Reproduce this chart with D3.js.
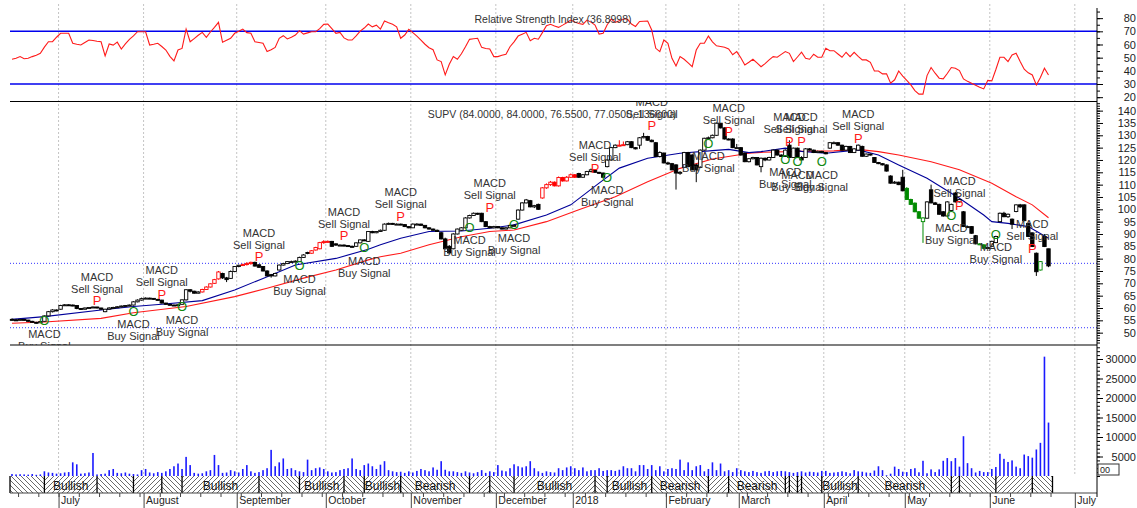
<!DOCTYPE html>
<html>
<head>
<meta charset="utf-8">
<script src="https://cdn.jsdelivr.net/npm/d3@7"></script>
<style>
  body { margin: 0; background: #fff; }
  svg { display: block; font-family: Arial, "Liberation Sans", sans-serif; }
</style>
</head>
<body>
<div id="chart"></div>
<script>
// ---- daily bars, index 0 = mid June 2017, index 256 = last bar (June 2018)
const opens = [
55.4,55.2,55.0,55.4,55.1,54.6,54.2,54.0,54.6,56.8, 58.5,59.2,59.5,61.0,61.3,61.2,61.0,59.8,59.5,60.0,
60.2,60.4,60.0,58.5,59.5,60.0,60.2,60.5,60.8,61.0, 61.2,62.5,63.2,63.8,64.0,63.9,63.5,63.2,62.0,61.5,
61.2,61.0,61.5,63.3,67.4,66.8,66.0,66.5,67.5,68.5, 70.0,71.8,74.0,72.2,72.0,74.8,76.8,77.3,77.6,78.0,
78.5,77.5,76.8,75.0,73.5,73.0,75.4,77.4,78.0,78.8, 78.8,78.8,80.5,82.5,82.2,83.5,84.0,86.5,86.9,87.0,
86.0,85.5,85.5,85.3,85.0,85.0,86.4,87.6,87.0,91.0, 90.5,91.0,91.5,94.0,94.3,94.0,94.0,93.8,93.0,92.5,
94.0,94.0,93.5,92.5,92.0,91.5,90.5,88.0,85.0,84.0, 90.0,91.5,92.5,96.5,97.5,98.4,98.4,95.0,93.0,92.5,
93.0,92.5,92.0,92.5,93.5,96.0,99.7,102.6,103.5,101.0, 102.0,104.6,108.7,110.0,111.0,109.5,112.9,111.5,113.0,114.0,
114.5,113.0,114.0,115.3,116.0,115.0,114.7,117.3,120.0,125.0, 126.0,126.0,126.2,127.4,125.0,126.0,129.0,129.5,128.0,127.0,
121.4,122.8,118.8,118.5,118.0,114.7,117.0,123.0,122.0,118.0, 117.0,124.0,128.8,129.0,130.0,134.9,133.0,128.5,128.5,125.0,
125.0,122.8,119.3,120.5,121.0,117.3,120.7,120.0,121.0,124.0, 122.0,121.4,126.0,121.0,124.8,121.0,121.0,124.5,124.0,123.0,
123.5,123.0,124.8,127.0,127.0,126.0,124.0,125.5,123.0,124.0, 125.5,121.5,122.4,121.0,119.0,118.5,118.0,113.5,110.6,111.0,
113.0,108.5,104.0,102.5,99.0,95.0,96.4,107.9,102.6,102.0, 99.0,97.3,99.5,106.6,103.0,99.0,93.0,93.0,89.3,86.0,
85.6,84.2,85.0,86.5,95.0,98.4,97.0,96.0,99.1,101.8, 101.8,94.3,90.4,82.2,75.4,89.0,84.0];
const highs = [
55.8,55.6,55.6,55.5,55.2,54.8,54.4,54.7,57.0,58.8, 59.5,59.4,61.3,61.6,61.5,61.4,61.1,60.0,60.2,60.4,
60.6,60.5,60.1,59.7,60.3,60.5,60.8,61.0,61.2,61.4, 62.8,63.5,64.2,64.3,64.2,64.0,63.7,63.3,62.1,61.7,
61.4,61.6,63.5,67.6,67.6,67.0,66.8,67.8,68.8,70.0, 71.8,75.0,74.3,72.6,75.2,77.0,77.6,78.0,78.6,78.8,
78.8,77.8,77.0,75.3,73.8,74.3,77.6,78.3,79.0,79.2, 79.3,80.8,81.8,82.8,83.5,84.8,86.8,87.5,87.4,87.2,
86.2,85.8,85.8,85.5,85.3,86.6,87.8,87.9,91.2,91.3, 91.2,91.8,94.3,94.6,94.5,94.3,94.2,94.0,93.2,94.3,
94.4,94.2,93.6,92.7,92.2,91.8,90.8,88.5,85.5,90.3, 92.2,92.8,96.8,97.8,98.7,98.6,98.6,95.2,93.3,93.3,
93.2,92.7,92.8,93.8,94.0,100.0,102.9,104.2,103.8,101.8, 102.3,109.0,110.5,111.5,111.3,113.3,113.2,113.5,114.5,114.3,
114.8,114.3,115.6,116.5,116.2,115.2,114.9,120.3,125.3,126.3, 128.0,127.5,127.7,127.6,125.2,129.3,131.0,129.8,128.3,127.3,
123.5,123.0,119.3,118.8,118.3,115.5,123.3,123.3,122.5,118.5, 124.3,129.0,129.5,130.3,135.2,135.0,133.2,128.8,128.8,126.5,
125.2,123.0,120.8,121.3,121.2,121.0,121.0,121.3,124.3,124.2, 122.3,124.3,128.0,125.0,125.0,121.5,124.8,124.8,124.2,123.8,
123.7,123.2,127.3,127.5,127.2,126.2,125.8,125.7,124.8,126.3, 125.8,122.6,122.6,121.2,119.2,118.7,118.2,113.8,111.5,111.2,
116.0,109.0,104.3,102.8,99.3,96.8,103.3,110.0,103.0,102.3, 99.3,103.3,102.3,107.0,104.3,99.3,93.4,93.2,89.6,86.3,
85.8,84.8,87.3,89.3,98.7,99.0,98.3,96.3,102.0,102.2, 102.0,94.5,90.6,82.5,79.0,90.0,84.0];
const lows = [
55.0,54.8,54.9,54.9,54.4,54.0,53.7,53.9,54.5,56.6, 58.2,58.7,59.3,60.8,60.9,60.7,59.5,59.3,59.4,59.8,
60.0,59.8,59.2,58.3,59.3,59.8,60.0,60.3,60.6,60.8, 61.0,62.3,63.0,63.6,63.6,63.3,63.0,61.8,61.3,61.0,
60.8,60.9,61.3,63.0,66.3,65.8,65.9,66.3,67.3,68.3, 69.8,71.5,71.8,70.5,71.8,74.5,76.5,77.0,77.2,77.5,
76.8,76.2,74.8,72.8,72.3,72.8,75.2,77.2,77.8,78.5, 78.5,78.6,80.3,81.8,82.0,83.3,83.8,86.0,86.5,84.8,
85.2,85.2,85.0,84.8,84.6,84.8,86.2,87.3,86.8,90.3, 90.3,90.8,91.3,93.8,93.8,93.7,93.6,92.8,92.3,92.4,
93.8,93.3,92.3,91.8,91.3,90.8,87.8,83.8,82.0,83.8, 89.8,91.3,92.3,96.3,97.3,97.8,94.8,92.8,92.3,92.3,
92.3,91.8,91.9,92.3,93.0,95.8,99.5,102.4,100.8,100.5, 99.8,104.3,108.3,109.5,109.3,109.2,111.2,111.3,112.8,112.7,
112.7,112.8,113.8,115.0,114.8,114.3,112.7,117.0,119.8,124.8, 125.5,125.8,126.0,124.8,124.3,124.5,128.8,127.8,127.2,121.2,
121.0,118.6,118.0,115.8,108.0,114.0,116.8,117.0,115.8,111.0, 116.8,123.8,128.5,128.8,129.8,132.8,128.3,128.0,124.8,124.5,
121.8,119.1,119.0,120.2,117.8,115.0,119.5,119.8,120.8,121.8, 121.2,121.2,120.8,120.8,120.8,119.8,120.8,123.8,122.8,122.8,
122.8,122.3,124.5,126.8,125.8,123.8,123.8,122.8,122.8,123.8, 121.3,121.2,121.8,118.8,118.3,117.8,115.3,110.4,110.3,109.8,
107.3,103.8,101.8,98.8,96.2,86.4,96.2,102.4,101.8,97.8, 97.0,97.0,99.3,102.8,102.8,92.8,92.6,90.1,85.8,85.5,
84.0,84.0,84.8,86.3,94.8,96.8,96.5,92.0,98.8,100.5, 95.2,88.8,84.7,73.0,75.2,84.7,76.55];
const closes = [
55.2,55.0,55.4,55.1,54.6,54.2,54.0,54.5,56.8,58.5, 59.2,59.0,61.0,61.3,61.2,61.0,59.8,59.5,60.0,60.2,
60.4,60.0,59.5,59.5,60.0,60.2,60.5,60.8,61.0,61.2, 62.5,63.2,63.8,64.0,63.9,63.5,63.2,62.0,61.5,61.2,
61.0,61.3,63.3,67.4,66.8,66.0,66.5,67.5,68.5,69.8, 71.5,74.6,72.2,71.5,74.8,76.8,77.3,77.6,78.0,78.5,
77.0,76.5,75.0,73.0,73.0,74.0,77.4,78.0,78.8,78.8, 79.0,80.5,81.5,82.2,83.2,84.5,86.5,86.9,87.0,85.0,
85.5,85.5,85.3,85.0,84.9,86.4,87.6,87.5,91.0,90.5, 91.0,91.5,94.0,94.3,94.0,94.0,93.8,93.0,92.5,94.0,
94.0,93.5,92.5,92.0,91.5,91.0,88.0,84.0,82.3,90.0, 92.0,92.5,96.5,97.5,98.4,98.0,95.0,93.0,92.5,93.0,
92.5,92.0,92.5,93.5,93.5,99.7,102.6,103.8,101.0,101.5, 100.0,108.7,110.0,111.0,109.5,112.9,111.5,113.0,114.0,113.0,
113.0,114.0,115.3,116.0,115.0,114.7,113.0,120.0,125.0,126.0, 126.0,126.2,127.4,125.0,124.5,129.0,129.5,128.0,127.4,121.4,
123.0,118.8,118.5,116.0,114.7,115.0,123.0,117.3,116.0,116.0, 124.0,128.8,129.0,130.0,134.9,133.0,128.5,128.3,125.0,125.0,
122.0,119.3,120.5,121.0,118.0,120.7,120.0,121.0,124.0,122.0, 121.4,124.0,121.0,124.8,121.0,120.0,124.5,124.0,123.0,123.5,
123.0,122.5,127.0,127.0,126.0,124.0,125.5,123.0,124.5,126.0, 121.5,122.4,122.0,119.0,118.5,118.0,115.5,110.6,111.0,110.0,
107.5,104.0,102.0,99.0,96.4,96.5,103.0,102.6,102.0,98.0, 97.3,103.0,102.0,103.0,104.0,93.0,93.0,90.3,86.0,86.0,
84.2,84.5,87.0,89.0,98.4,97.0,98.0,94.0,101.8,101.0, 95.4,89.0,84.9,74.7,78.8,84.9,77.05];
const volumes = [
500,400,450,400,350,500,300,400,1200,900, 800,600,700,900,1000,3500,3000,600,700,900,
5900,400,500,600,1500,1800,800,700,900,600, 500,400,1500,1800,900,700,1000,800,1200,1800,
2500,3200,1800,4900,2800,800,600,700,1200,1500, 5400,2800,800,900,1500,1200,900,1800,2800,1200,
800,1000,1500,2000,6700,2500,3500,4500,1800,2000, 1500,1200,1000,4200,1500,2000,2200,1800,1200,900,
1000,1500,1800,2000,4500,1800,1500,2800,3200,2500, 1800,2900,3800,1500,1200,1000,1100,800,1200,900,
1300,1800,1500,1200,2200,1600,3800,1600,1200,1200, 1000,800,1200,900,700,1000,1500,800,1200,1000,
2800,1400,1200,2000,3000,2500,2200,2500,3800,2000, 1200,800,1200,1000,900,2000,1500,2200,2500,2000,
1500,2200,1200,1500,1500,2000,1300,1500,1500,1300, 1600,2500,2000,2000,1200,2800,2800,1800,2800,1500,
2500,1200,1800,2000,1800,4200,1500,3500,1500,2500, 2800,1200,1800,3500,1500,3200,1200,1500,1000,2000,
1500,1200,1000,1300,1000,800,1200,1300,1000,1200, 1300,1200,1000,800,1000,1200,900,1100,1000,900,
1300,1300,800,900,1000,1200,1000,700,1500,1200, 1100,900,800,1400,2500,1500,200,600,2400,1800,
1100,1000,1800,2000,950,3900,700,1700,1000,1700, 3900,4600,3800,4600,2400,10200,3300,2000,900,1300,
1000,1000,1800,2300,5700,4400,3600,4000,2400,2000, 5500,5100,4700,6800,8500,30600,13700];
const rsi = [
48.8,49.5,50.8,49.2,49.5,50.8,51.8,53.3,58,62.1, 62.1,65.5,68.5,68.5,68.5,60.9,60.2,59.6,61.5,63.4,
63,62.5,62.1,51.3,60.4,59.5,61.8,56.6,60.5,63.9, 66.5,69.7,69.7,69.7,59.6,60.2,60.9,58.5,55.8,51,
47.5,55.8,57,71.7,62.1,64.5,67,69.2,65.5,69.5, 73,76.8,61.7,63.2,64.7,68.5,70,71.7,69,68.5,
62.1,61.5,60.9,54.6,56,57.8,64.7,66.7,64.2,65.5, 67.2,70.5,67.9,68.8,69.7,69.7,72,75.3,75.5,72,
68.5,69.2,65,63.4,63.4,66.5,70.2,72.5,75.5,73.4, 74.7,71.7,77.8,76.5,75.3,73.4,64.7,67.2,71.5,69,
66.4,63.3,60.2,57.5,56,48.3,47,36.9,45,50.8, 48.8,53,58.3,63.9,64.3,64.7,57.8,57,56.6,50.8,
50.8,51.8,52.6,58.3,62,66.4,67.8,69.2,62.9,64.7, 64,69,74.2,75.3,74,73,74.7,76.5,78.5,77,
76,75.3,78.5,77,74.7,67.9,68.5,75,79.3,76.8, 78,79.3,79.3,75.5,73.7,77.5,77.7,77.8,71,57.1,
54.6,63.4,60.9,49.5,43.7,50.8,48.8,46,43.1,55.8, 60.9,60.9,66.4,62,59,58.5,57.9,56.6,52.2,54.6,
50,44.5,46.5,48.8,46,43.1,45.5,48.3,50.8,50.3, 52.5,54.6,53.3,47,50.5,54.1,49.5,48.8,52.6,50.3,
50.3,57.1,55.3,55.3,52.8,50.3,54.1,50.8,54.1,51, 48.3,48.3,46.5,39.9,39.9,37.7,37.7,30.6,33.2,39.9,
36,32.7,29.3,25,22.3,22.3,36.4,42.5,38.2,34.4, 33.9,38,42.5,42,40.2,33.9,32,30.6,29,27.6,
26.3,32.7,32.4,41,50.3,50.3,47,52.1,53.3,47, 41.2,38.5,36.9,29.3,35,42,36.9];

// candle colour groups
const redDays = [47,48,49,50,51,57,58,59,74,75,76,77,78,131,132,133,134,135,136,137,138,139,150,151];
const greenDays = [221,222,223,224,225,239,240,254];

// moving averages (day index, value)
const fastMaDays = [0,8,22,30,37,47,55,62,70,80,88,91,96,103,111,118,124,132,138,145,150,157,165,173,177,182,185,191,195,201,209,214,219,226,234,240,242,246,251,256];
const fastMa = [55.4,56.5,59.2,60.6,61.5,63,67.3,72,77.4,80.1,83.8,85.6,88.3,91,91.2,92.3,93.7,97.7,101.8,110.6,116.7,120.7,122.7,123.8,124.3,123,123.4,124.8,123.5,122.7,124.1,122,118,112.6,104.5,97.7,95,94.3,93,88.3];
const slowMaDays = [0,8,22,30,43,55,63,72,80,88,91,96,103,111,118,124,132,140,149,157,165,173,182,185,195,203,209,214,219,227,234,242,248,252,256];
const slowMa = [53.8,54.3,55.8,58.1,60.6,64.6,68,72.1,75.4,79.5,80.8,82.2,85.6,88.9,91,91.6,95,99.8,105.1,111.2,116.6,120.4,122.7,123.1,123.5,123.7,124.3,123.4,122,119.3,116,110.6,105.1,101.8,96.6];

// MACD signals: B = buy (O), S = sell (P)
const signalDays = [8,21,30,37,42,61,71,82,87,96,113,118,124,144,147,158,172,177,191,192,194,195,200,209,232,234,243,252];
const signalTypes = "BSBSBSBSBSBSBSBSBSBSBSBSBSBS";
const signalPrices = [54.9,63.0,58.7,65.7,60.6,80.8,77.2,89.3,84.5,97.3,92.7,100.8,93.8,116.5,113.0,133.9,126.8,131.5,120.3,127.7,119.3,127.7,119.3,128.8,97.7,101.8,90.0,84.2];
// label of the trend band segment before the first signal and after each signal
const bandLabels = ["","Bullish","","","","Bullish","","Bullish","","Bullish","Bearish","","","Bullish","","Bullish","Bearish","","Bearish","","","","","Bullish","Bearish","","","",""];

const monthStarts = [12,33,56,78,99,120,139,162,180,201,221,242,263];
const monthLabels = ["July","August","September","October","November","December","2018","February","March","April","May","June","July"];

const refLines = [78.1, 52.0];
const rsiLevels = [70, 30];

const rsiTitle = "Relative Strength Index (36.8998)";
const priceTitle = "SUPV (84.0000, 84.0000, 76.5500, 77.0500, 136600)";

// ---- layout
const W = 1137, H = 508;
const plotL = 10, plotR = 1097;
const bandTop = 476, bandBot = 493;
const narrow = "'Liberation Sans Narrow', 'Arial Narrow', Arial, sans-serif";

const svg = d3.select('#chart').append('svg').attr('width', W).attr('height', H);
const defs = svg.append('defs');

const x = d3.scaleLinear().domain([0, 256]).range([12, 1048.5]);
const yRsi = d3.scaleLinear().domain([17.1, 91.5]).range([101, 3]);
const yPrice = d3.scaleLinear().domain([45, 143.5]).range([345, 102]);
const yVol = d3.scaleLinear().domain([0, 30000]).range([bandTop, 359]);

const gridX = i => x(i - 0.5);

// month grid lines
svg.append('g').selectAll('line').data(monthStarts).join('line')
  .attr('x1', d => gridX(d)).attr('x2', d => gridX(d))
  .attr('y1', 4).attr('y2', bandTop)
  .attr('stroke', '#c4c4c4').attr('stroke-dasharray', '2,2');

// panel separators
svg.append('g').selectAll('line').data([101.5, 345]).join('line')
  .attr('x1', plotL).attr('x2', plotR).attr('y1', d => d).attr('y2', d => d)
  .attr('stroke', '#000').attr('stroke-width', 1.2);

// ---- RSI panel
svg.append('g').selectAll('line').data(rsiLevels).join('line')
  .attr('x1', plotL).attr('x2', plotR).attr('y1', d => yRsi(d)).attr('y2', d => yRsi(d))
  .attr('stroke', '#0000ee').attr('stroke-width', 1.4);

svg.append('path').datum(rsi)
  .attr('fill', 'none').attr('stroke', '#ff1a1a').attr('stroke-width', 1.1)
  .attr('d', d3.line().x((d, i) => x(i)).y(d => yRsi(d)));

svg.append('text').attr('x', 553).attr('y', 23).attr('text-anchor', 'middle')
  .attr('font-size', 10.5).attr('fill', '#333').text(rsiTitle);

// ---- price panel
svg.append('g').selectAll('line').data(refLines).join('line')
  .attr('x1', plotL).attr('x2', plotR).attr('y1', d => yPrice(d)).attr('y2', d => yPrice(d))
  .attr('stroke', '#3333ff').attr('stroke-dasharray', '1,2');

svg.append('text').attr('x', 552).attr('y', 118).attr('text-anchor', 'middle')
  .attr('font-size', 10.5).attr('fill', '#333').text(priceTitle);

const maLine = d3.line().x(d => x(d[0])).y(d => yPrice(d[1]));
svg.append('path').datum(d3.zip(slowMaDays, slowMa))
  .attr('fill', 'none').attr('stroke', '#ff1a1a').attr('stroke-width', 1.1).attr('d', maLine);
svg.append('path').datum(d3.zip(fastMaDays, fastMa))
  .attr('fill', 'none').attr('stroke', '#000099').attr('stroke-width', 1.1).attr('d', maLine);

const bars = closes.map((c, i) => ({
  i, o: opens[i], h: highs[i], l: lows[i], c,
  col: redDays.includes(i) ? '#ff0000' : greenDays.includes(i) ? '#008a00' : '#000'
}));

const candles = svg.append('g').selectAll('g').data(bars).join('g');
candles.append('line')
  .attr('x1', d => x(d.i)).attr('x2', d => x(d.i))
  .attr('y1', d => yPrice(d.h)).attr('y2', d => yPrice(d.l))
  .attr('stroke', d => d.col).attr('stroke-width', 1);
candles.append('rect')
  .attr('x', d => x(d.i) - 1.7).attr('width', 3.4)
  .attr('y', d => yPrice(Math.max(d.o, d.c)))
  .attr('height', d => Math.max(1, Math.abs(yPrice(d.o) - yPrice(d.c))))
  .attr('fill', d => d.c >= d.o ? '#fff' : d.col)
  .attr('stroke', d => d.col).attr('stroke-width', 0.9);

// signals
defs.append('clipPath').attr('id', 'priceClip').append('rect')
  .attr('x', 0).attr('y', 102).attr('width', plotR).attr('height', 243);
const sig = svg.append('g').attr('clip-path', 'url(#priceClip)')
  .selectAll('g').data(signalDays.map((d, k) => ({ i: d, t: signalTypes[k], p: signalPrices[k] })))
  .join('g').attr('transform', d => `translate(${x(d.i)},${yPrice(d.p)})`);

sig.append('text').attr('text-anchor', 'middle').attr('dy', '0.36em')
  .attr('font-family', narrow).attr('font-size', 13)
  .attr('fill', d => d.t === 'S' ? '#ff1a1a' : '#108a10')
  .text(d => d.t === 'S' ? 'P' : 'O');
sig.append('text').attr('text-anchor', 'middle')
  .attr('y', d => d.t === 'S' ? -20 : 17)
  .attr('font-family', narrow).attr('font-size', 11).attr('fill', '#333')
  .text('MACD');
sig.append('text').attr('text-anchor', 'middle')
  .attr('y', d => d.t === 'S' ? -8 : 29)
  .attr('font-family', narrow).attr('font-size', 11).attr('fill', '#333')
  .text(d => d.t === 'S' ? 'Sell Signal' : 'Buy Signal');

// ---- volume panel
svg.append('g').selectAll('rect').data(volumes).join('rect')
  .attr('x', (d, i) => x(i) - 0.8).attr('width', 1.6)
  .attr('y', d => yVol(d)).attr('height', d => bandTop - yVol(d))
  .attr('fill', '#1a1aff');

// ---- trend band
function hatch(id, up) {
  const p = defs.append('pattern').attr('id', id)
    .attr('patternUnits', 'userSpaceOnUse').attr('width', 5).attr('height', 5);
  p.append('rect').attr('width', 5).attr('height', 5).attr('fill', '#fff');
  p.append('path')
    .attr('d', up ? 'M0,5 L5,0 M-1,1 L1,-1 M4,6 L6,4' : 'M0,0 L5,5 M-1,4 L1,6 M4,-1 L6,1')
    .attr('stroke', '#444').attr('stroke-width', 0.8);
}
hatch('bull', true);
hatch('bear', false);

const edges = [plotL].concat(signalDays.map(d => x(d)), [x(256) + 4]);
const segs = bandLabels.map((lab, k) => ({
  x0: edges[k], x1: edges[k + 1], lab,
  bull: k > 0 && signalTypes[k - 1] === 'B'
}));
const band = svg.append('g');
band.selectAll('rect').data(segs).join('rect')
  .attr('x', d => d.x0).attr('width', d => d.x1 - d.x0)
  .attr('y', bandTop).attr('height', bandBot - bandTop)
  .attr('fill', d => d.bull ? 'url(#bull)' : 'url(#bear)');
band.selectAll('line').data(edges).join('line')
  .attr('x1', d => d).attr('x2', d => d).attr('y1', bandTop).attr('y2', bandBot)
  .attr('stroke', '#000').attr('stroke-width', 1.3);
band.selectAll('text').data(segs.filter(d => d.lab)).join('text')
  .attr('x', d => (d.x0 + d.x1) / 2).attr('y', 489.5).attr('text-anchor', 'middle')
  .attr('font-size', 12).attr('fill', '#111').text(d => d.lab);

// ---- bottom axis
const xAxis = svg.append('g').attr('transform', `translate(0,${bandBot})`)
  .call(d3.axisBottom(x).tickValues(monthStarts.map(d => d - 0.5)).tickSize(15)
    .tickFormat((d, k) => monthLabels[k]));
xAxis.select('.domain').attr('d', `M${plotL},0H${plotR}`).attr('stroke', '#444');
xAxis.selectAll('.tick line').attr('stroke', '#444');
xAxis.selectAll('.tick text').attr('text-anchor', 'start').attr('x', 2).attr('y', 4)
  .attr('dy', '0.71em').attr('font-size', 10.5).attr('fill', '#222')
  .attr('font-family', 'Arial, "Liberation Sans", sans-serif');

const weekAxis = svg.append('g').attr('transform', `translate(0,${bandBot})`)
  .call(d3.axisBottom(x).tickValues(d3.range(2, 262, 5).map(d => d - 0.5)).tickSize(4).tickFormat(''));
weekAxis.select('.domain').remove();
weekAxis.selectAll('.tick line').attr('stroke', '#444');

// ---- right axes
svg.append('line').attr('x1', plotR).attr('x2', plotR).attr('y1', 8).attr('y2', 497)
  .attr('stroke', '#000');

function rightAxis(scale, minor, major, labels) {
  const gm = svg.append('g').attr('transform', `translate(${plotR},0)`)
    .call(d3.axisRight(scale).tickValues(minor).tickSize(3).tickFormat(''));
  gm.select('.domain').remove();
  const g = svg.append('g').attr('transform', `translate(${plotR},0)`)
    .call(d3.axisRight(scale).tickValues(major).tickSize(6)
      .tickFormat(d => labels.includes(d) ? d : ''));
  g.select('.domain').remove();
  g.selectAll('text').attr('x', 39).attr('text-anchor', 'end')
    .attr('font-size', 11).attr('fill', '#222')
    .attr('font-family', 'Arial, "Liberation Sans", sans-serif');
}
rightAxis(yRsi, d3.range(20, 90, 5), d3.range(20, 90, 10), d3.range(20, 90, 10));
rightAxis(yPrice, d3.range(46, 144, 1), d3.range(50, 145, 5), d3.range(50, 145, 5));
rightAxis(yVol, d3.range(0, 34000, 1000), d3.range(5000, 34000, 5000), d3.range(5000, 31000, 5000));

// last value box in the volume panel
svg.append('rect').attr('x', 1098).attr('y', 464).attr('width', 21).attr('height', 11)
  .attr('fill', '#fff').attr('stroke', '#333');
svg.append('text').attr('x', 1100).attr('y', 473).attr('font-size', 9).attr('fill', '#222').text('00');
</script>
</body>
</html>
